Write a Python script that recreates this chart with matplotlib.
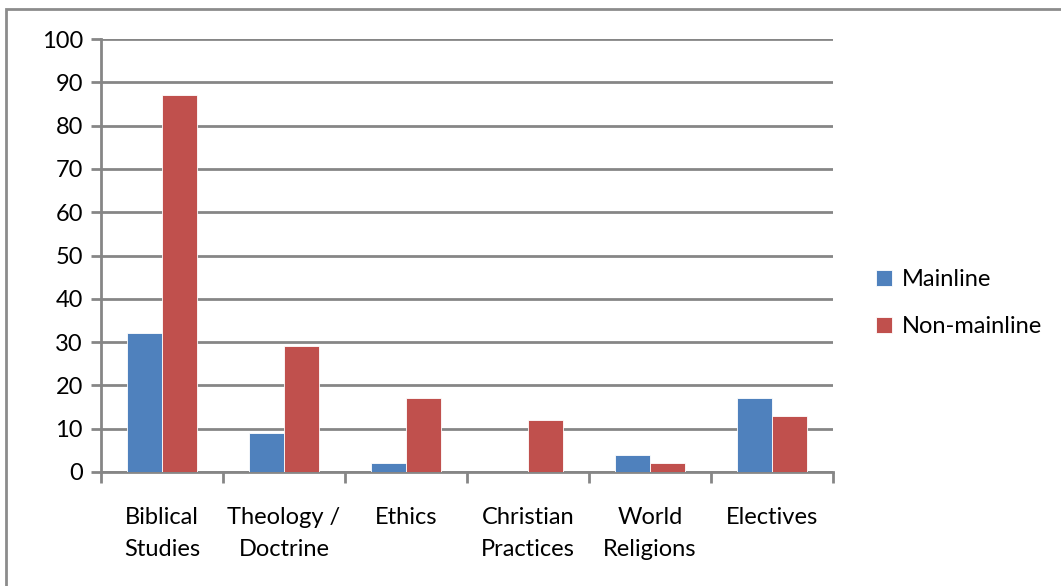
import numpy as np
import matplotlib.pyplot as plt
from matplotlib.patches import Rectangle

# data
categories = ['Biblical\nStudies', 'Theology /\nDoctrine', 'Ethics',
              'Christian\nPractices', 'World\nReligions', 'Electives']
mainline = [32, 9, 2, 0, 4, 17]
non_mainline = [87, 29, 17, 12, 2, 13]
series_names = ['Mainline', 'Non-mainline']
y_ticks = [0, 10, 20, 30, 40, 50, 60, 70, 80, 90, 100]

plt.rcParams['font.family'] = ['Lato', 'DejaVu Sans']

W, H = 1061, 586
fig = plt.figure(figsize=(W / 100, H / 100), dpi=100)
ax = fig.add_axes([101 / W, 1 - 472 / H, (833 - 101) / W, (472 - 39) / H])

grid_col = '#868686'
blue = '#4f81bd'
red = '#c0504d'
fs = 17

x = np.arange(len(categories))
bw = 0.285
ax.bar(x - bw / 2, mainline, bw, color=blue, edgecolor='white', linewidth=0.6,
       label=series_names[0], zorder=3)
ax.bar(x + bw / 2, non_mainline, bw, color=red, edgecolor='white', linewidth=0.6,
       label=series_names[1], zorder=3)

ax.set_xlim(-0.5, len(categories) - 0.5)
ax.set_ylim(0, 100)
ax.set_yticks(y_ticks)
ax.yaxis.grid(True, color=grid_col, linewidth=2)
ax.set_axisbelow(True)

# category labels centred, ticks at category boundaries
ax.set_xticks(np.arange(len(categories) + 1) - 0.5)
ax.set_xticklabels([])
ax.set_xticks(x, minor=True)
ax.set_xticklabels(categories, minor=True, fontsize=fs, linespacing=1.65)
ax.tick_params(axis='x', which='minor', length=0, pad=25)
ax.tick_params(axis='x', which='major', length=8, width=2, color=grid_col)
ax.tick_params(axis='y', length=7, width=2, color=grid_col, labelsize=fs, pad=6)

for s in ['top', 'right']:
    ax.spines[s].set_visible(False)
for s in ['left', 'bottom']:
    ax.spines[s].set_color(grid_col)
    ax.spines[s].set_linewidth(2)

leg = ax.legend(loc='center left', bbox_to_anchor=(1.03, 0.39), frameon=False,
                fontsize=fs, handlelength=0.65, handleheight=0.65,
                handletextpad=0.45, labelspacing=1.1)

# outer chart border
fig.patches.append(Rectangle((6 / W, -0.1), 1.2, 1 - 9 / H + 0.1,
                             transform=fig.transFigure, fill=False,
                             edgecolor='#8c8c8c', linewidth=2))

fig.savefig('out.png', dpi=100)
